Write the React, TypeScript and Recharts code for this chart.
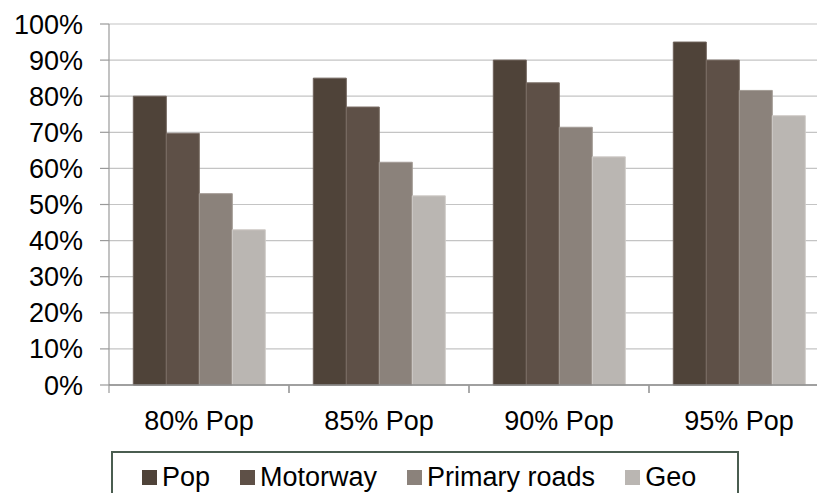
import React from "react";
import { BarChart, Bar, XAxis, YAxis, CartesianGrid, Legend } from "recharts";

const categories = ["80% Pop", "85% Pop", "90% Pop", "95% Pop"];
const popValues = [80, 85, 90, 95];
const motorwayValues = [69.7, 77, 83.7, 90];
const primaryValues = [53, 61.7, 71.4, 81.6];
const geoValues = [43, 52.4, 63.2, 74.6];
const yTicks = [0, 10, 20, 30, 40, 50, 60, 70, 80, 90, 100];

const seriesNames = ["Pop", "Motorway", "Primary roads", "Geo"];
const seriesKeys = ["pop", "motorway", "primary", "geo"];
const seriesColors = ["#4f4339", "#5e5047", "#8b827b", "#bab6b2"];
const seriesStrokes = ["#6e625a", "#7a6d65", "#a39b95", "#d0ccc8"];

const data = categories.map((c, i) => ({
  name: c,
  pop: popValues[i],
  motorway: motorwayValues[i],
  primary: primaryValues[i],
  geo: geoValues[i],
}));

const FONT = "'Liberation Sans', Arial, sans-serif";
const X_TICK_SIZE = 8;
const X_TICK_MARGIN = 18;

const XTick = (props: any) => {
  const { x, y, payload } = props;
  const half = payload && typeof payload.offset === "number" && payload.offset > 0 ? payload.offset : 90;
  const axisY = y - X_TICK_SIZE - X_TICK_MARGIN;
  return (
    <g>
      <line x1={x - half} x2={x - half} y1={axisY} y2={axisY + X_TICK_SIZE} stroke="#9a9a9a" strokeWidth={1.2} />
      <line x1={x + half} x2={x + half} y1={axisY} y2={axisY + X_TICK_SIZE} stroke="#9a9a9a" strokeWidth={1.2} />
      <text x={x} y={y} dy="0.71em" textAnchor="middle" fill="#000" fontSize={27} fontFamily={FONT}>
        {payload.value}
      </text>
    </g>
  );
};

const LegendBox = () => (
  <div
    style={{
      border: "2px solid #4a5d50",
      boxSizing: "border-box",
      width: 628,
      height: 70,
      display: "flex",
      alignItems: "flex-start",
      paddingLeft: 29,
      paddingTop: 9,
      fontFamily: FONT,
      fontSize: 27,
      color: "#000",
      background: "#fff",
    }}
  >
    {seriesNames.map((n, i) => (
      <div key={n} style={{ display: "flex", alignItems: "center", marginRight: 30, lineHeight: "30px" }}>
        <span style={{ display: "inline-block", width: 15, height: 15, background: seriesColors[i], marginRight: 5 }} />
        <span>{n}</span>
      </div>
    ))}
  </div>
);

export default function App() {
  return (
    <div style={{ position: "absolute", left: 0, top: 0, width: 817, height: 493, overflow: "hidden", background: "#fff" }}>
      <BarChart
        width={850}
        height={493}
        data={data}
        margin={{ top: 24, right: 21, left: 0, bottom: 48 }}
        barCategoryGap="13.5%"
        barGap={0}
      >
        <CartesianGrid vertical={false} stroke="#c4c4c4" strokeWidth={1.2} />
        <YAxis
          width={109}
          domain={[0, 100]}
          ticks={yTicks}
          interval={0}
          tickFormatter={(v: number) => `${v}%`}
          tick={{ fill: "#000", fontSize: 27, fontFamily: FONT }}
          tickSize={9}
          tickMargin={17}
          axisLine={{ stroke: "#9a9a9a", strokeWidth: 1.2 }}
          tickLine={{ stroke: "#9a9a9a", strokeWidth: 1.2 }}
        />
        <XAxis
          dataKey="name"
          height={60}
          interval={0}
          tick={<XTick />}
          tickSize={X_TICK_SIZE}
          tickMargin={X_TICK_MARGIN}
          tickLine={false}
          axisLine={{ stroke: "#8a8a8a", strokeWidth: 1.5 }}
        />
        <Legend
          layout="horizontal"
          verticalAlign="middle"
          align="center"
          content={<LegendBox />}
          wrapperStyle={{ left: 111, top: 451, width: 628, height: 70 }}
        />
        {seriesKeys.map((k, i) => (
          <Bar
            key={k}
            dataKey={k}
            name={seriesNames[i]}
            fill={seriesColors[i]}
            stroke={seriesStrokes[i]}
            strokeWidth={1}
            isAnimationActive={false}
          />
        ))}
      </BarChart>
    </div>
  );
}
